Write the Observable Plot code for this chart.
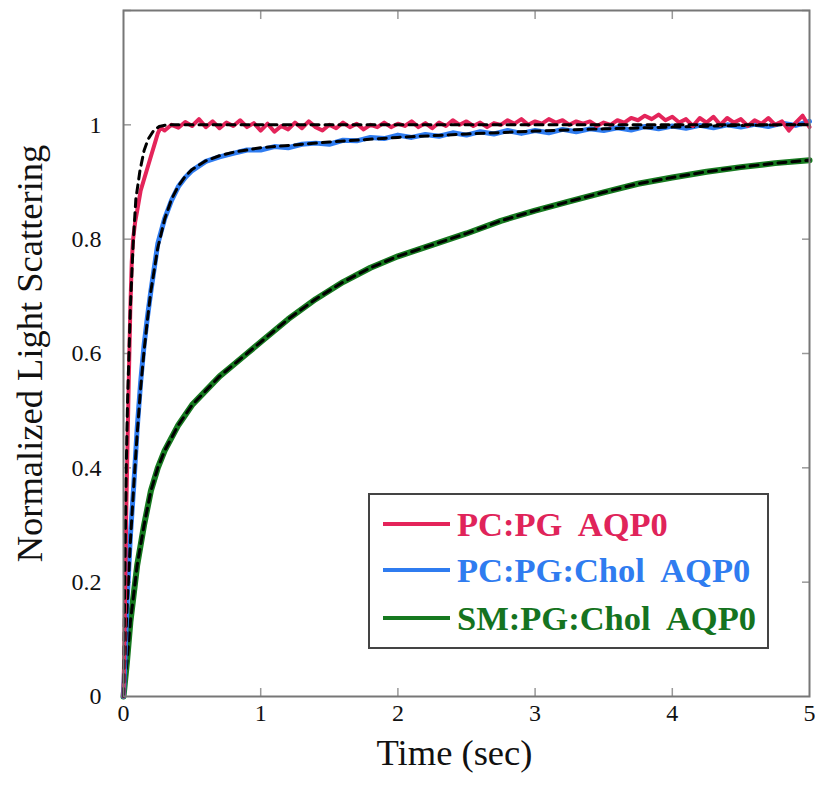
<!DOCTYPE html>
<html>
<head>
<meta charset="utf-8">
<script src="https://cdn.jsdelivr.net/npm/d3@7"></script>
<script src="https://cdn.jsdelivr.net/npm/@observablehq/plot@0.6"></script>
<style>
  html, body { margin: 0; padding: 0; background: #fff; }
  #wrap { position: relative; width: 815px; height: 789px; font-family: "Liberation Serif", "Times New Roman", serif; }
  #wrap svg text { font-family: "Liberation Serif", "Times New Roman", serif; }
  #legend { position: absolute; left: 368px; top: 493px; width: 397px; height: 152px; border: 2px solid #444; background: #fff; }
  .row { position: absolute; left: 0; height: 40px; display: flex; align-items: center; }
  .sw { display: inline-block; width: 67px; height: 4px; margin-left: 13px; margin-right: 7px; }
  .lab { font-weight: bold; font-size: 34.5px; white-space: pre; line-height: 40px; }
</style>
</head>
<body>
<div id="wrap"></div>
<script>
// ---------- data ----------
const seriesNames = ["PC:PG  AQP0", "PC:PG:Chol  AQP0", "SM:PG:Chol  AQP0"];
const seriesColors = ["#e4245a", "#2f7cf0", "#16791f"];
const legendTextColors = ["#e0245a", "#2f7cf0", "#157320"];

// PC:PG AQP0 measured trace
const redTime = [0, 0.01, 0.02, 0.03, 0.04, 0.05, 0.06, 0.07, 0.085, 0.1, 0.125, 0.15, 0.175, 0.2, 0.225, 0.25, 0.27,
  0.30, 0.35, 0.40, 0.45, 0.50, 0.55, 0.60, 0.65, 0.70, 0.75, 0.80, 0.85, 0.90, 0.95, 1.00, 1.05, 1.10, 1.15, 1.20, 1.25,
  1.30, 1.35, 1.40, 1.45, 1.50, 1.55, 1.60, 1.65, 1.70, 1.75, 1.80, 1.85, 1.90, 1.95, 2.00, 2.05, 2.10, 2.15, 2.20, 2.25,
  2.30, 2.35, 2.40, 2.45, 2.50, 2.55, 2.60, 2.65, 2.70, 2.75, 2.80, 2.85, 2.90, 2.95, 3.00, 3.05, 3.10, 3.15, 3.20, 3.25,
  3.30, 3.35, 3.40, 3.45, 3.50, 3.55, 3.60, 3.65, 3.70, 3.75, 3.80, 3.85, 3.90, 3.95, 4.00, 4.05, 4.10, 4.15, 4.20, 4.25,
  4.30, 4.35, 4.40, 4.45, 4.50, 4.55, 4.60, 4.65, 4.70, 4.75, 4.80, 4.85, 4.90, 4.95, 5.00];
const redValue = [0, 0.15, 0.32, 0.45, 0.57, 0.68, 0.76, 0.80, 0.83, 0.85, 0.885, 0.905, 0.925, 0.945, 0.965, 0.985, 0.995,
  0.990, 1.000, 0.995, 1.005, 0.998, 1.010, 0.996, 1.006, 0.994, 1.004, 0.998, 1.008, 0.996, 1.003, 0.990, 1.002, 0.988, 0.998, 0.992, 1.004,
  0.994, 1.006, 0.996, 0.990, 1.000, 0.994, 1.004, 0.996, 1.002, 0.992, 1.000, 0.996, 1.004, 0.996, 1.002, 0.998, 1.006, 0.996, 1.003, 0.994,
  1.004, 0.998, 1.008, 1.000, 1.006, 0.998, 1.004, 0.996, 1.003, 1.000, 1.008, 1.002, 1.010, 1.000, 1.006, 1.002, 1.010, 1.004, 1.008, 1.000,
  1.006, 1.002, 1.006, 0.998, 1.004, 1.000, 1.008, 1.004, 1.012, 1.008, 1.016, 1.010, 1.018, 1.008, 1.014, 1.004, 1.010, 0.998, 1.012, 1.004,
  1.014, 1.000, 1.012, 1.004, 1.010, 0.998, 1.008, 1.002, 1.012, 1.000, 1.006, 0.990, 1.004, 1.016, 0.996];

// PC:PG AQP0 fit
const redFitTime = [0, 0.01, 0.02, 0.03, 0.05, 0.07, 0.09, 0.12, 0.15, 0.18, 0.22, 0.26, 0.32, 5];
const redFitValue = [0, 0.22, 0.40, 0.52, 0.68, 0.79, 0.87, 0.92, 0.955, 0.975, 0.99, 0.997, 1.0, 1.0];

// PC:PG:Chol AQP0 measured trace
const blueTime = [0, 0.025, 0.05, 0.075, 0.1, 0.125, 0.15, 0.175, 0.2, 0.25, 0.3, 0.35, 0.4, 0.45,
  0.5, 0.6, 0.7, 0.8, 0.9, 1.0, 1.1, 1.2, 1.3, 1.4, 1.5, 1.6, 1.7, 1.8, 1.9, 2.0, 2.1, 2.2, 2.3, 2.4, 2.5, 2.6, 2.7,
  2.8, 2.9, 3.0, 3.1, 3.2, 3.3, 3.4, 3.5, 3.6, 3.7, 3.8, 3.9, 4.0, 4.1, 4.2, 4.3, 4.4, 4.5, 4.6, 4.7, 4.8, 4.9, 5.0];
const blueValue = [0, 0.16, 0.28, 0.37, 0.47, 0.55, 0.615, 0.665, 0.71, 0.792, 0.836, 0.868, 0.892, 0.908,
  0.920, 0.936, 0.944, 0.950, 0.956, 0.956, 0.962, 0.960, 0.966, 0.968, 0.966, 0.973, 0.972, 0.978, 0.976, 0.982, 0.978, 0.983, 0.980, 0.986, 0.982, 0.988, 0.984,
  0.990, 0.985, 0.990, 0.986, 0.992, 0.988, 0.993, 0.990, 0.995, 0.991, 0.997, 0.993, 0.998, 0.994, 0.999, 0.995, 1.000, 0.996, 1.001, 0.997, 1.003, 0.999, 1.006];

// PC:PG:Chol AQP0 fit
const blueFitTime = [0, 0.025, 0.05, 0.075, 0.1, 0.125, 0.15, 0.175, 0.2, 0.25, 0.3, 0.35, 0.4, 0.45, 0.5, 0.6, 0.7, 0.8, 0.9, 1.0, 1.5, 2, 2.5, 3, 3.5, 4, 4.5, 5];
const blueFitValue = [0, 0.15, 0.27, 0.37, 0.46, 0.54, 0.605, 0.66, 0.71, 0.785, 0.835, 0.87, 0.893, 0.91, 0.922, 0.937, 0.946, 0.952, 0.956, 0.96, 0.97, 0.978, 0.984, 0.989, 0.993, 0.996, 0.999, 1.001];

// SM:PG:Chol AQP0 measured trace (fit coincides)
const greenTime = [0, 0.025, 0.05, 0.075, 0.1, 0.15, 0.2, 0.25, 0.3, 0.4, 0.5, 0.6, 0.7, 0.8, 0.9, 1.0, 1.2, 1.4, 1.6, 1.8,
  2.0, 2.25, 2.5, 2.75, 3.0, 3.25, 3.5, 3.75, 4.0, 4.25, 4.5, 4.75, 5.0];
const greenValue = [0, 0.06, 0.13, 0.18, 0.23, 0.30, 0.36, 0.40, 0.43, 0.475, 0.51, 0.535, 0.56, 0.58, 0.60, 0.62, 0.66, 0.695, 0.725, 0.75,
  0.77, 0.79, 0.81, 0.832, 0.85, 0.866, 0.882, 0.897, 0.908, 0.918, 0.926, 0.933, 0.938];
const greenFitValue = [0, 0.06, 0.13, 0.18, 0.23, 0.30, 0.36, 0.40, 0.43, 0.475, 0.51, 0.535, 0.56, 0.58, 0.60, 0.62, 0.66, 0.695, 0.725, 0.75,
  0.77, 0.79, 0.81, 0.832, 0.85, 0.866, 0.882, 0.897, 0.908, 0.918, 0.926, 0.933, 0.938];

const xTicks = [0, 1, 2, 3, 4, 5];
const yTicks = [0, 0.2, 0.4, 0.6, 0.8, 1];
const xInnerTicks = [1, 2, 3, 4];
const yInnerTicks = [0.2, 0.4, 0.6, 0.8, 1, 1.2];
const xTitle = "Time (sec)";
const yTitle = "Normalized Light Scattering";

// ---------- build ----------
const zip = (T, V) => T.map((t, i) => ({t, v: V[i]}));
const red = zip(redTime, redValue), redFit = zip(redFitTime, redFitValue);
const blue = zip(blueTime, blueValue), blueFit = zip(blueFitTime, blueFitValue);
const green = zip(greenTime, greenValue), greenFit = zip(greenTime, greenFitValue);

const serif = "Liberation Serif";
const tickStroke = "#999";
const fit = {x: "t", y: "v", stroke: "#000", strokeWidth: 3, strokeDasharray: "8,6"};

const chart = Plot.plot({
  width: 815,
  height: 789,
  marginLeft: 123,
  marginRight: 6,
  marginTop: 10,
  marginBottom: 93,
  style: {fontFamily: serif, fontSize: "24px", color: "#111", background: "#fff"},
  x: {domain: [0, 5]},
  y: {domain: [0, 1.2]},
  marks: [
    // inward ticks on all four sides (no text)
    Plot.axisX(xInnerTicks, {anchor: "bottom", tickSize: 8, insetBottom: 8, fill: "none", stroke: tickStroke, strokeWidth: 1.5, label: null}),
    Plot.axisX(xInnerTicks, {anchor: "top", tickSize: 8, insetTop: 8, fill: "none", stroke: tickStroke, strokeWidth: 1.5, label: null}),
    Plot.axisY(yInnerTicks, {anchor: "left", tickSize: 8, insetLeft: 8, fill: "none", stroke: tickStroke, strokeWidth: 1.5, label: null}),
    Plot.axisY(yInnerTicks, {anchor: "right", tickSize: 8, insetRight: 8, fill: "none", stroke: tickStroke, strokeWidth: 1.5, label: null}),
    // tick labels through the scales
    Plot.text(xTicks, {x: d => d, frameAnchor: "bottom", dy: 24, text: d => String(d), fontSize: 24, fontFamily: serif, fill: "#111"}),
    Plot.text(yTicks, {y: d => d, frameAnchor: "left", textAnchor: "end", dx: -22, text: d => String(d), fontSize: 24, fontFamily: serif, fill: "#111"}),
    // data
    Plot.line(green, {x: "t", y: "v", stroke: seriesColors[2], strokeWidth: 6}),
    Plot.line(greenFit, fit),
    Plot.line(blue, {x: "t", y: "v", stroke: seriesColors[1], strokeWidth: 5}),
    Plot.line(blueFit, fit),
    Plot.line(red, {x: "t", y: "v", stroke: seriesColors[0], strokeWidth: 4}),
    Plot.line(redFit, fit),
    Plot.frame({stroke: "#777", strokeWidth: 2}),
    // titles
    Plot.text([yTitle], {frameAnchor: "left", textAnchor: "middle", rotate: -90, dx: -93, fontSize: 36.5, fontFamily: serif, fill: "#111"}),
    Plot.text([xTitle], {frameAnchor: "bottom", textAnchor: "middle", dx: -12, dy: 68, fontSize: 36.5, fontFamily: serif, fill: "#111"})
  ]
});

const wrap = document.getElementById("wrap");
wrap.appendChild(chart);

// legend (HTML overlay)
const legend = document.createElement("div");
legend.id = "legend";
const rowTops = [9, 55, 103];
seriesNames.forEach((name, i) => {
  const row = document.createElement("div");
  row.className = "row";
  row.style.top = rowTops[i] + "px";
  const sw = document.createElement("span");
  sw.className = "sw";
  sw.style.background = seriesColors[i];
  const lab = document.createElement("span");
  lab.className = "lab";
  lab.style.color = legendTextColors[i];
  lab.textContent = name;
  row.appendChild(sw);
  row.appendChild(lab);
  legend.appendChild(row);
});
wrap.appendChild(legend);
</script>
</body>
</html>
